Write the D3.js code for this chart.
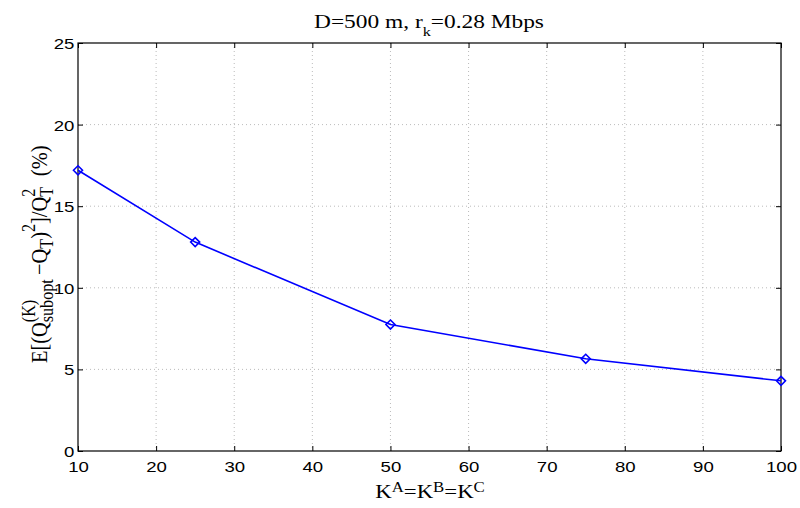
<!DOCTYPE html>
<html><head><meta charset="utf-8">
<script src="https://cdn.jsdelivr.net/npm/d3@7"></script>
<style>body{margin:0;background:#fff}</style>
</head><body>
<svg id="c" width="800" height="508"></svg>
<script>
const xValues = [10, 25, 50, 75, 100];
const yValues = [17.2, 12.8, 7.75, 5.65, 4.3];
const xTicks = [10, 20, 30, 40, 50, 60, 70, 80, 90, 100];
const yTicks = [0, 5, 10, 15, 20, 25];

const svg = d3.select("#c");
const L = 78, R = 781, T = 43, B = 451;
const SX = 1.2; // horizontal stretch of glyphs
const x = d3.scaleLinear().domain([10, 100]).range([L, R]);
const y = d3.scaleLinear().domain([0, 25]).range([B, T]);

// grid
const g = svg.append("g");
g.selectAll(".gx").data(xTicks.slice(1, -1)).enter().append("line")
  .attr("x1", d => x(d)).attr("x2", d => x(d)).attr("y1", T).attr("y2", B)
  .attr("stroke", "#aaa").attr("stroke-width", 0.8).attr("stroke-dasharray", "1,3");
g.selectAll(".gy").data(yTicks.slice(1, -1)).enter().append("line")
  .attr("x1", L).attr("x2", R).attr("y1", d => y(d)).attr("y2", d => y(d))
  .attr("stroke", "#aaa").attr("stroke-width", 0.8).attr("stroke-dasharray", "1,3");

// axes
const font = "Liberation Sans, Arial, Helvetica, sans-serif";
const ax = svg.append("g").attr("transform", `translate(0,${B})`)
  .call(d3.axisBottom(x).tickValues(xTicks).tickSize(-5).tickFormat(d3.format("d")));
const axT = svg.append("g").attr("transform", `translate(0,${T})`)
  .call(d3.axisTop(x).tickValues(xTicks).tickSize(-5).tickFormat(""));
const ay = svg.append("g").attr("transform", `translate(${L},0)`)
  .call(d3.axisLeft(y).tickValues(yTicks).tickSize(-5).tickFormat(d3.format("d")));
const ayR = svg.append("g").attr("transform", `translate(${R},0)`)
  .call(d3.axisRight(y).tickValues(yTicks).tickSize(-5).tickFormat(""));
[ax, axT, ay, ayR].forEach(a => {
  a.select(".domain").remove();
  a.selectAll("line").attr("stroke", "#000");
  a.selectAll("text").attr("font-family", font).attr("font-size", 15.5).attr("fill", "#000");
});
ax.selectAll("text").attr("dy", null).attr("y", 21).attr("x", 0)
  .attr("transform", `scale(${SX},1)`);
ay.selectAll("text").attr("dy", "0.36em").attr("x", -3.7 / SX)
  .attr("transform", `scale(${SX},1)`);
svg.append("rect").attr("x", L).attr("y", T).attr("width", R - L).attr("height", B - T)
  .attr("fill", "none").attr("stroke", "#000").attr("stroke-width", 1.2);

// data
const pts = xValues.map((v, i) => [v, yValues[i]]);
svg.append("path").datum(pts)
  .attr("d", d3.line().x(d => x(d[0])).y(d => y(d[1])))
  .attr("fill", "none").attr("stroke", "#0000ff").attr("stroke-width", 1.6);
svg.selectAll(".m").data(pts).enter().append("path")
  .attr("transform", d => `translate(${x(d[0])},${y(d[1])})`)
  .attr("d", "M0,-4.5L4.5,0L0,4.5L-4.5,0Z")
  .attr("fill", "none").attr("stroke", "#0000ff").attr("stroke-width", 1.6);

// texts
const serif = "Liberation Serif, Times New Roman, serif";
const title = svg.append("text").attr("transform", `translate(429,28) scale(${SX},1)`)
  .attr("text-anchor", "middle").attr("font-family", serif).attr("font-size", 19.5);
title.append("tspan").text("D=500 m, r");
title.append("tspan").attr("dy", 8).attr("font-size", 13.5).text("k");
title.append("tspan").attr("dy", -8).text("=0.28 Mbps");

const xl = svg.append("text").attr("transform", `translate(430,498) scale(${SX},1)`)
  .attr("text-anchor", "middle").attr("font-family", serif).attr("font-size", 19);
[["K",0],["A",1],["=K",0],["B",1],["=K",0],["C",1]].forEach(([t,s]) => {
  const ts = xl.append("tspan").text(t);
  if (s) ts.attr("baseline-shift", "45%").attr("font-size", 14);
});

// y label, rotated, with stacked super/subscripts
const yl = svg.append("text").attr("font-family", serif).attr("font-size", 19);
const SS = 15, UP = -10, DN = 5;
yl.append("tspan").text("E[(Q");
const s1 = yl.append("tspan").attr("font-size", SS).attr("dy", UP).text("(K)");
const w1 = s1.node().getComputedTextLength();
yl.append("tspan").attr("font-size", SS).attr("dx", -w1).attr("dy", DN - UP).text("subopt");
yl.append("tspan").attr("dy", -DN).attr("dx", 4).text("−Q");
yl.append("tspan").attr("font-size", SS).attr("dy", DN).text("T");
yl.append("tspan").attr("dy", -DN).text(")");
yl.append("tspan").attr("font-size", SS).attr("dy", UP).text("2");
yl.append("tspan").attr("dy", -UP).text("]/Q");
const s2 = yl.append("tspan").attr("font-size", SS).attr("dy", UP).text("2");
const w2 = s2.node().getComputedTextLength();
yl.append("tspan").attr("font-size", SS).attr("dx", -w2).attr("dy", DN - UP).text("T");
yl.append("tspan").attr("dy", -DN).attr("dx", 10).text("(%)");
// fit along axis: start at y=363, end at y=130
const len = yl.node().getComputedTextLength();
const k = Math.min(1.12, 233 / len);
const start = 246.5 + len * k / 2;
yl.attr("transform", `translate(46.5,${start}) rotate(-90) scale(${k},${SX})`);
</script>
</body></html>
